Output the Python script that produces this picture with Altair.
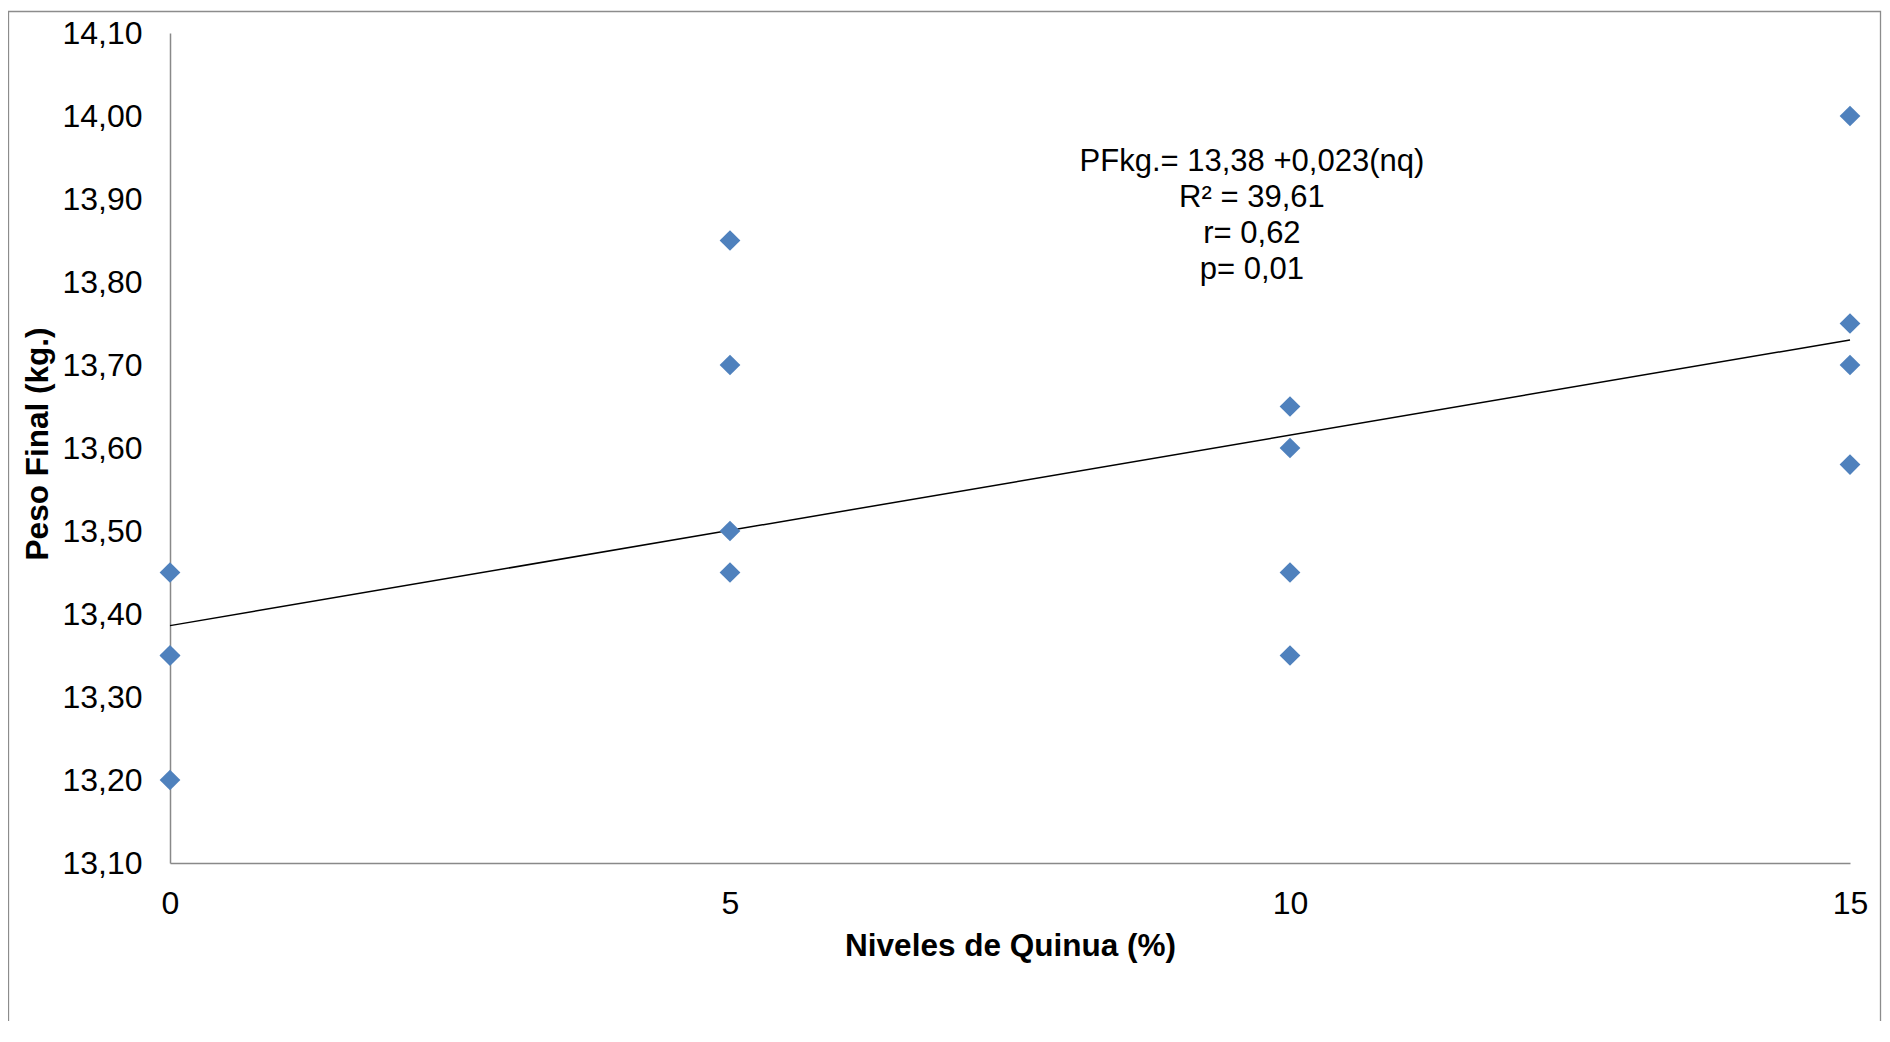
import altair as alt
import pandas as pd

# ---- data (two coincident points at 0 / 13,35) ----
niveles = [0, 0, 0, 0, 5, 5, 5, 5, 10, 10, 10, 10, 15, 15, 15, 15]
peso = [13.45, 13.35, 13.35, 13.20,
        13.85, 13.70, 13.50, 13.45,
        13.65, 13.60, 13.45, 13.35,
        14.00, 13.75, 13.70, 13.58]
x_ticks = [0, 5, 10, 15]
y_ticks = [13.1, 13.2, 13.3, 13.4, 13.5, 13.6, 13.7, 13.8, 13.9, 14.0, 14.1]
eq_lines = ["PFkg.= 13,38 +0,023(nq)", "R² = 39,61", "r= 0,62", "p= 0,01"]
eq_x = [9.66]
eq_y = [13.934]

df = pd.DataFrame({"nq": niveles, "peso": peso})
df_ann = pd.DataFrame({"nq": eq_x, "peso": eq_y})

FONT = "Liberation Sans"

xscale = alt.Scale(domain=[0, 15], nice=False, zero=False)
yscale = alt.Scale(domain=[13.1, 14.1], nice=False, zero=False)

X = alt.X("nq:Q", scale=xscale,
          axis=alt.Axis(values=x_ticks, title="Niveles de Quinua (%)", format="d",
                        labelPadding=50, labelBaseline="alphabetic", labelFlush=False,
                        labelOverlap=False, labelAlign="center",
                        titleY=92, titleX=840, titleBaseline="alphabetic", titleAlign="center"))
Y = alt.Y("peso:Q", scale=yscale,
          axis=alt.Axis(values=y_ticks, title="Peso Final (kg.)",
                        labelExpr="replace(format(datum.value, '.2f'), '.', ',')",
                        labelPadding=28, labelFlush=False, labelOverlap=False,
                        labelAlign="right", labelBaseline="middle",
                        titleAngle=270, titleX=-123, titleY=410.5,
                        titleBaseline="alphabetic", titleAlign="center"))

frame = alt.Chart(pd.DataFrame({"a": [0]})).mark_rect(
    filled=False, stroke="#8c8c8c", strokeWidth=1.3
).encode(
    x=alt.value(-161.5), x2=alt.value(1710.5),
    y=alt.value(-21.5), y2=alt.value(1100)
)

line = alt.Chart(df).transform_regression(
    "nq", "peso", extent=[0, 15]
).mark_line(color="black", strokeWidth=1.5).encode(x=X, y=Y)

points = alt.Chart(df).mark_point(
    shape="diamond", filled=True, size=430, color="#4F81BD", opacity=1, strokeWidth=0
).encode(x=X, y=Y)

ann = alt.Chart(df_ann).mark_text(
    text=eq_lines, font=FONT, fontSize=31, color="black",
    align="center", baseline="alphabetic", lineHeight=36.2
).encode(x=X, y=Y)

chart = alt.layer(frame, line, points, ann).properties(
    width=1680, height=830,
    padding={"left": 162, "top": 25, "right": 32, "bottom": 158},
    autosize=alt.AutoSizeParams(type="none"),
    background="white",
).configure_view(
    stroke="transparent"
).configure_axis(
    grid=False, ticks=False, tickSize=0,
    domainColor="#898989", domainWidth=1.5,
    labelFont=FONT, labelFontSize=32, labelColor="black",
    titleFont=FONT, titleFontSize=31.5, titleFontWeight="bold", titleColor="black",
)

chart.save("out.html", embed_options={"renderer": "svg", "actions": False})
